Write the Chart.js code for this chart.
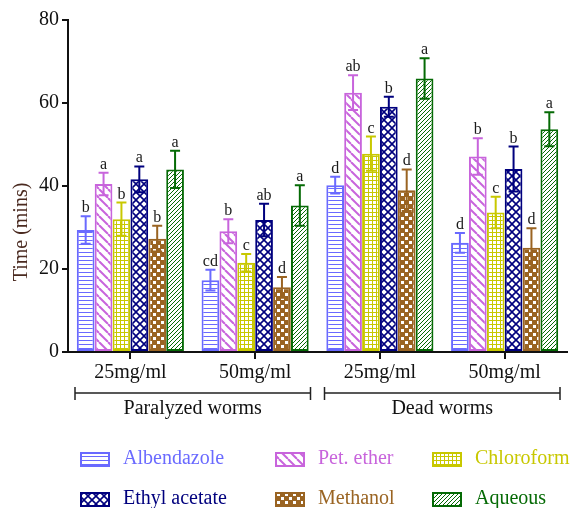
<!DOCTYPE html>
<html>
<head>
<meta charset="utf-8">
<script src="https://cdn.jsdelivr.net/npm/chart.js@4.4.1/dist/chart.umd.min.js"></script>
<style>
  html, body { margin: 0; padding: 0; background: #fff; }
  #wrap { width: 576px; height: 508px; }
</style>
</head>
<body>
<div id="wrap"><canvas id="chart" width="576" height="508"></canvas></div>
<script>
'use strict';

// ---- data ----
var doses = ['25mg/ml', '50mg/ml', '25mg/ml', '50mg/ml'];
var outcomes = ['Paralyzed worms', 'Dead worms'];
var yTicks = [0, 20, 40, 60, 80];
var extracts = ['Albendazole', 'Pet. ether', 'Chloroform', 'Ethyl acetate', 'Methanol', 'Aqueous'];

var albendazole = [29.4, 17.3, 40.2, 26.3];
var petEther    = [40.5, 29.1, 62.5, 47.1];
var chloroform  = [32.0, 21.5, 47.8, 33.6];
var ethylAcetate = [41.6, 31.8, 59.1, 44.1];
var methanol    = [27.3, 15.6, 39.0, 25.1];
var aqueous     = [44.0, 35.3, 65.9, 53.7];

var albendazoleErr = [3.3, 2.5, 2.0, 2.4];
var petEtherErr    = [2.7, 2.9, 4.2, 4.4];
var chloroformErr  = [4.0, 2.1, 4.1, 3.8];
var ethylAcetateErr = [3.1, 3.9, 2.4, 5.4];
var methanolErr    = [3.1, 2.5, 5.0, 4.7];
var aqueousErr     = [4.5, 4.9, 4.9, 4.1];

var albendazoleSig = ['b', 'cd', 'd', 'd'];
var petEtherSig    = ['a', 'b', 'ab', 'b'];
var chloroformSig  = ['b', 'c', 'c', 'c'];
var ethylAcetateSig = ['a', 'ab', 'b', 'b'];
var methanolSig    = ['b', 'd', 'd', 'd'];
var aqueousSig     = ['a', 'a', 'a', 'a'];

// ---- styling ----
var FONT = "'Liberation Serif', 'Times New Roman', serif";
var colors = ['#6a6aff', '#c864dc', '#c8c800', '#00007e', '#9a6422', '#056a05'];
var patternKinds = ['hlines', 'bdiag', 'grid', 'diamond', 'checker', 'fdiag'];

/** Build a small repeating fill for a hatched bar. */
function makePattern(kind, color) {
  var t = document.createElement('canvas');
  var s = { hlines: 4, bdiag: 9, grid: 4, diamond: 8, checker: 8, fdiag: 4 }[kind];
  t.width = s; t.height = s;
  var c = t.getContext('2d');
  c.fillStyle = '#fff';
  c.fillRect(0, 0, s, s);
  c.fillStyle = color;
  c.strokeStyle = color;
  if (kind === 'hlines') {
    c.fillRect(0, 0, s, 1);
  } else if (kind === 'grid') {
    c.fillRect(0, 0, s, 1);
    c.fillRect(0, 0, 1, s);
  } else if (kind === 'checker') {
    c.fillRect(0, 0, s, s);
    c.fillStyle = '#fff';
    c.fillRect(1, 1, 3, 3);
    c.fillRect(5, 5, 3, 3);
  } else if (kind === 'bdiag' || kind === 'fdiag' || kind === 'diamond') {
    c.lineWidth = kind === 'fdiag' ? 1 : (kind === 'diamond' ? 1.6 : 2);
    [-s, 0, s].forEach(function(o) {
      c.beginPath();
      if (kind !== 'fdiag') { c.moveTo(o, 0); c.lineTo(o + s, s); }
      if (kind !== 'bdiag') { c.moveTo(o, s); c.lineTo(o + s, 0); }
      c.stroke();
    });
  }
  return c.createPattern(t, 'repeat');
}

var means = [albendazole, petEther, chloroform, ethylAcetate, methanol, aqueous];
var errs = [albendazoleErr, petEtherErr, chloroformErr, ethylAcetateErr, methanolErr, aqueousErr];
var sigs = [albendazoleSig, petEtherSig, chloroformSig, ethylAcetateSig, methanolSig, aqueousSig];
var patterns = patternKinds.map(function(k, i) { return makePattern(k, colors[i]); });

var datasets = extracts.map(function(name, i) {
  return {
    label: name,
    data: means[i],
    backgroundColor: patterns[i],
    borderColor: colors[i],
    borderWidth: 2,
    borderSkipped: false,
    categoryPercentage: 0.86,
    barPercentage: 0.99
  };
});

/** Error bars, significance letters, outcome brackets, y title and legend. */
var extrasPlugin = {
  id: 'extras',
  afterDatasetsDraw: function(chart) {
    var ctx = chart.ctx;
    var y = chart.scales.y;
    var x = chart.scales.x;
    ctx.save();

    // error bars + letters
    chart.data.datasets.forEach(function(ds, di) {
      var meta = chart.getDatasetMeta(di);
      meta.data.forEach(function(bar, i) {
        var hi = y.getPixelForValue(means[di][i] + errs[di][i]);
        var lo = y.getPixelForValue(means[di][i] - errs[di][i]);
        ctx.strokeStyle = colors[di];
        ctx.lineWidth = 2;
        ctx.beginPath();
        ctx.moveTo(bar.x, hi); ctx.lineTo(bar.x, lo);
        ctx.moveTo(bar.x - 5, hi); ctx.lineTo(bar.x + 5, hi);
        ctx.moveTo(bar.x - 5, lo); ctx.lineTo(bar.x + 5, lo);
        ctx.stroke();
        ctx.fillStyle = '#1a1a1a';
        ctx.font = '16px ' + FONT;
        ctx.textAlign = 'center';
        ctx.textBaseline = 'alphabetic';
        ctx.fillText(sigs[di][i], bar.x, hi - 4);
      });
    });

    // outcome brackets under the dose labels
    ctx.strokeStyle = '#222';
    ctx.lineWidth = 1.5;
    ctx.fillStyle = '#111';
    ctx.font = '20px ' + FONT;
    ctx.textAlign = 'center';
    ctx.textBaseline = 'middle';
    outcomes.forEach(function(name, g) {
      var x0 = x.getPixelForValue(g * 2 - 0.5) + 7;
      var x1 = x.getPixelForValue(g * 2 + 1.5) - 7;
      var by = 393;
      ctx.beginPath();
      ctx.moveTo(x0, by); ctx.lineTo(x1, by);
      ctx.moveTo(x0, by - 6); ctx.lineTo(x0, by + 7);
      ctx.moveTo(x1, by - 6); ctx.lineTo(x1, by + 7);
      ctx.stroke();
      ctx.fillText(name, (x0 + x1) / 2, 409);
    });

    // y axis title (sits lower than the axis middle in the original)
    ctx.save();
    ctx.translate(22, 232);
    ctx.rotate(-Math.PI / 2);
    ctx.fillStyle = '#4a2a20';
    ctx.fillText('Time (mins)', 0, 0);
    ctx.restore();

    // legend, 3 columns x 2 rows
    var colX = [81, 276, 433];
    var rowY = [459, 499];
    extracts.forEach(function(name, i) {
      var cx = colX[i % 3];
      var cy = rowY[Math.floor(i / 3)];
      ctx.fillStyle = patterns[i];
      ctx.fillRect(cx, cy - 6, 28, 13);
      ctx.strokeStyle = colors[i];
      ctx.lineWidth = 2;
      ctx.strokeRect(cx, cy - 6, 28, 13);
      ctx.fillStyle = colors[i];
      ctx.textAlign = 'left';
      ctx.fillText(name, cx + 42, cy);
    });
    ctx.restore();
  }
};

new Chart(document.getElementById('chart'), {
  type: 'bar',
  data: { labels: doses, datasets: datasets },
  plugins: [extrasPlugin],
  options: {
    responsive: false,
    animation: false,
    layout: { padding: { top: 20, right: 9, left: 0, bottom: 0 } },
    plugins: { legend: { display: false }, tooltip: { enabled: false } },
    scales: {
      x: {
        afterFit: function(s) { s.height = 156; },
        grid: { display: true, offset: false, drawOnChartArea: false, drawTicks: true, tickLength: 7, color: '#111', lineWidth: 2 },
        border: { display: true, color: '#111', width: 2 },
        ticks: { color: '#111', font: { family: FONT, size: 20 }, padding: 2 }
      },
      y: {
        min: 0,
        max: 80,
        afterFit: function(s) { s.width = 68; },
        afterBuildTicks: function(s) { s.ticks = yTicks.map(function(v) { return { value: v }; }); },
        grid: { display: true, drawOnChartArea: false, drawTicks: true, tickLength: 6, color: '#111', lineWidth: 2 },
        border: { display: true, color: '#111', width: 2 },
        ticks: { color: '#111', font: { family: FONT, size: 20 }, padding: 3 }
      }
    }
  }
});
</script>
</body>
</html>
